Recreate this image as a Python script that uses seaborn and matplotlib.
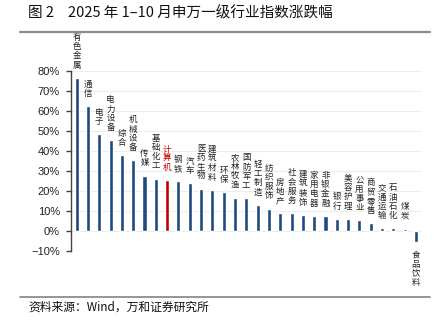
import matplotlib
matplotlib.use("Agg")
import matplotlib.pyplot as plt
from matplotlib.lines import Line2D
from matplotlib.ticker import FuncFormatter
import seaborn as sns
import pandas as pd

# 申万一级行业 2025年1-10月涨跌幅 (%)
industries = ["有色金属", "通信", "电子", "电力设备", "综合", "机械设备", "传媒", "基础化工",
              "计算机", "钢铁", "汽车", "医药生物", "建筑材料", "环保", "农林牧渔", "国防军工",
              "轻工制造", "纺织服饰", "房地产", "社会服务", "建筑装饰", "家用电器", "非银金融",
              "银行", "美容护理", "公用事业", "商贸零售", "交通运输", "石油石化", "煤炭", "食品饮料"]
changes = [76.5, 62.3, 48.4, 45.4, 37.9, 35.3, 27.7, 26.2,
           25.3, 24.8, 23.8, 21.2, 20.5, 19.3, 16.5, 16.3,
           13.0, 11.2, 8.9, 8.8, 8.0, 7.5, 7.5,
           6.0, 6.0, 5.3, 3.8, 1.3, 1.3, 1.2, -5.7]
highlight = "计算机"
y_ticks = [-10, 0, 10, 20, 30, 40, 50, 60, 70, 80]

figure_no = "图 2"
title_text = "2025 年 1–10 月申万一级行业指数涨跌幅"
source_text = "资料来源：Wind，万和证券研究所"

NAVY = "#1F4A7E"
RED = "#C00000"

sns.set_theme(style="white")
plt.rcParams["font.family"] = ["Noto Sans CJK SC", "DejaVu Sans"]
plt.rcParams["axes.unicode_minus"] = True

df = pd.DataFrame({"industry": industries, "change": changes})
df["group"] = ["hl" if n == highlight else "base" for n in industries]

fig = plt.figure(figsize=(4.45, 3.23), dpi=100)
ax = fig.add_axes([0.1596, 0.2229, 0.9474 - 0.1596, 0.7802 - 0.2229])

sns.barplot(data=df, x="industry", y="change", hue="group",
            palette={"base": NAVY, "hl": RED}, width=0.36,
            legend=False, ax=ax, zorder=3, saturation=1)

ax.set_xlim(-0.5, len(industries) - 0.5)
ax.set_ylim(-10, 80)
ax.set_yticks(y_ticks)
ax.yaxis.set_major_formatter(FuncFormatter(lambda v, p: f"{v:.0f}%".replace("-", "−")))
for lbl in ax.get_yticklabels():
    lbl.set_fontfamily(["Liberation Sans", "DejaVu Sans"])
    lbl.set_fontsize(8)
    lbl.set_color("#222222")
ax.tick_params(axis="y", direction="out", length=3.5, width=1.0, color="#444444", pad=4.5, left=True)
ax.set_xticks([])
ax.set_xlabel("")
ax.set_ylabel("")

ax.grid(axis="y", color="#EDEDED", linewidth=0.8, zorder=0)
for side in ("top", "right", "bottom"):
    ax.spines[side].set_visible(False)
ax.spines["left"].set_color("#444444")
ax.spines["left"].set_linewidth(1.0)

# vertical category labels, one character per line, above (or below) each bar
GAP_PT = 6.0    # distance between bar end and nearest character
STEP_PT = 6.6   # vertical pitch between stacked characters
for i, (name, val) in enumerate(zip(industries, changes)):
    color = RED if name == highlight else "#222222"
    n = len(name)
    for k, ch in enumerate(name):
        if val >= 0:
            off = GAP_PT + (n - 1 - k) * STEP_PT + STEP_PT / 2
        else:
            off = -(GAP_PT + k * STEP_PT + STEP_PT / 2)
        ax.annotate(ch, xy=(i, val), xytext=(0, off), textcoords="offset points",
                    ha="center", va="center", fontsize=6.1, color=color,
                    annotation_clip=False)

# header and footer
fig.text(28 / 445, 1 - 13 / 323, figure_no, ha="left", va="center", fontsize=10.5, color="#111111")
fig.text(68 / 445, 1 - 13 / 323, title_text, ha="left", va="center", fontsize=10.5, color="#111111")
fig.add_artist(Line2D([20 / 445, 430 / 445], [1 - 32 / 323, 1 - 32 / 323],
                      color="#8C8C8C", linewidth=1.6, transform=fig.transFigure))
fig.add_artist(Line2D([20 / 445, 430 / 445], [1 - 297 / 323, 1 - 297 / 323],
                      color="#8C8C8C", linewidth=1.3, transform=fig.transFigure))
fig.text(28 / 445, 1 - 307 / 323, source_text, ha="left", va="center", fontsize=8.5, color="#111111")

fig.savefig("out.png", dpi=100)
